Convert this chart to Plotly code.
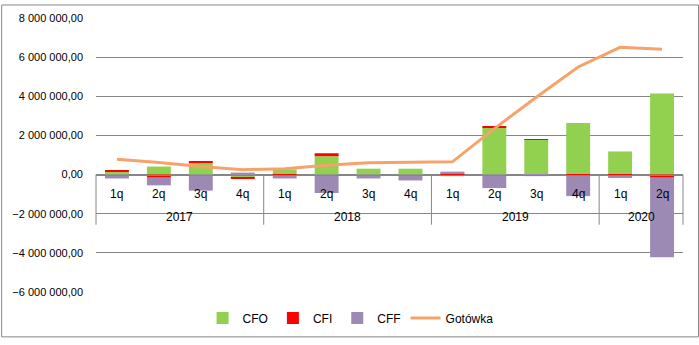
import plotly.graph_objects as go

# Quarterly cash flows (PLN)
years = ["2017"] * 4 + ["2018"] * 4 + ["2019"] * 4 + ["2020"] * 2
quarters = ["1q", "2q", "3q", "4q"] * 3 + ["1q", "2q"]

cfo = [160000, 410000, 620000, -160000, 260000, 940000, 300000, 300000,
       -80000, 2410000, 1770000, 2630000, 1180000, 4140000]
cfi = [50000, -160000, 50000, -50000, -40000, 150000, 0, 0,
       30000, 50000, 40000, -50000, -100000, -160000]
cff = [-200000, -390000, -820000, 100000, -160000, -940000, -200000, -300000,
       120000, -690000, -80000, -1050000, -30000, -4070000]
gotowka = [780000, 620000, 410000, 250000, 300000, 470000, 600000, 620000,
           650000, 2350000, 3950000, 5500000, 6500000, 6400000]

x = [years, quarters]
n = len(quarters)

W, H = 699, 345
L, R, T, B = 95, 16, 14, 47
pw, ph = W - L - R, H - T - B
ymin, ymax = -6000000, 8000000
zero_p = (0 - ymin) / (ymax - ymin)  # paper height of the zero line

fig = go.Figure()
fig.add_bar(x=x, y=cfo, name="CFO", marker_color="#92D050", marker_line_width=0)
fig.add_bar(x=x, y=cfi, name="CFI", marker_color="#FF0000", marker_line_width=0)
fig.add_bar(x=x, y=cff, name="CFF", marker_color="#9C8AB5", marker_line_width=0)
fig.add_scatter(x=x, y=gotowka, name="Gotówka", mode="lines",
                line=dict(color="#F7A26B", width=3))

font = dict(family="Liberation Sans, Arial, sans-serif", size=11, color="#000000")
xfont = dict(family="Liberation Sans, Arial, sans-serif", size=12, color="#000000")

# Two-level category labels below the zero line
for i, q in enumerate(quarters):
    fig.add_annotation(x=(i + 0.5) / n, y=zero_p - 20 / ph, xref="paper", yref="paper",
                       text=q, showarrow=False, font=xfont,
                       xanchor="center", yanchor="middle")

groups = []
for i, yr in enumerate(years):
    if not groups or groups[-1][0] != yr:
        groups.append([yr, i, i + 1])
    else:
        groups[-1][2] = i + 1

for yr, s, e in groups:
    fig.add_annotation(x=(s + e) / 2 / n, y=zero_p - 44 / ph, xref="paper", yref="paper",
                       text=yr, showarrow=False, font=xfont,
                       xanchor="center", yanchor="middle")

bounds = sorted({s for _, s, _ in groups} | {e for _, _, e in groups})
for b in bounds:
    fig.add_shape(type="line", xref="paper", yref="paper",
                  x0=b / n, x1=b / n, y0=zero_p, y1=zero_p - 52 / ph,
                  line=dict(color="#868686", width=1))

fig.update_layout(
    width=W, height=H,
    margin=dict(l=L, r=R, t=T, b=B),
    paper_bgcolor="white", plot_bgcolor="white",
    barmode="relative", bargap=0.43,
    separators=", ",
    font=font,
    showlegend=True,
    legend=dict(orientation="h", x=(350 - L) / pw, xanchor="center",
                y=-27 / ph, yanchor="middle", font=xfont,
                itemwidth=30, traceorder="normal"),
    xaxis=dict(type="multicategory", anchor="free", position=zero_p,
               showline=True, linecolor="#868686", linewidth=1,
               showdividers=False, showticklabels=False,
               ticks="", showgrid=False),
    yaxis=dict(range=[ymin, ymax], dtick=2000000, tickformat=",.2f",
               showgrid=True, gridcolor="#868686", gridwidth=1,
               zeroline=False, showline=False, ticks="",
               ticklabelstandoff=12, tickfont=font),
)

# Outer chart border
fig.add_shape(type="rect", xref="paper", yref="paper",
              x0=(-L + 0.5) / pw, x1=(pw + R - 0.5) / pw,
              y0=(-B + 0.5) / ph, y1=(ph + T - 0.5) / ph,
              line=dict(color="#868686", width=1))

fig.write_html("out.html")
